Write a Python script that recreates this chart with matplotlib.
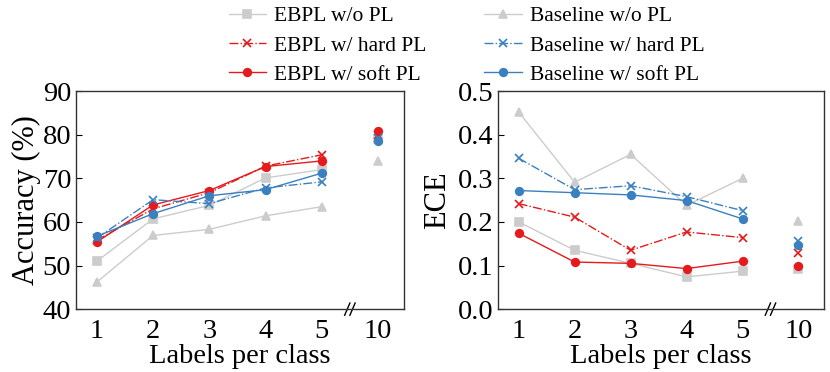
import numpy as np
import matplotlib.pyplot as plt

plt.rcParams['font.family'] = ['Liberation Serif', 'DejaVu Serif']

tick_labels = ['1', '2', '3', '4', '5', '10']

# accuracy (%)
acc_ebpl_nopl = [51.0, 60.7, 63.8, 70.1, 72.0, 79.0]
acc_ebpl_hard = [55.8, 63.0, 66.7, 72.8, 75.4, 79.9]
acc_ebpl_soft = [55.4, 63.9, 67.2, 72.7, 74.0, 80.9]
acc_base_nopl = [46.2, 56.9, 58.3, 61.4, 63.5, 74.0]
acc_base_hard = [56.3, 65.1, 64.2, 67.8, 69.2, 79.3]
acc_base_soft = [56.7, 61.9, 66.0, 67.4, 71.2, 78.6]

# ECE
ece_ebpl_nopl = [0.200, 0.135, 0.105, 0.074, 0.087, 0.092]
ece_ebpl_hard = [0.242, 0.211, 0.135, 0.177, 0.164, 0.128]
ece_ebpl_soft = [0.174, 0.108, 0.105, 0.093, 0.110, 0.099]
ece_base_nopl = [0.452, 0.291, 0.355, 0.238, 0.300, 0.203]
ece_base_hard = [0.346, 0.274, 0.283, 0.258, 0.226, 0.157]
ece_base_soft = [0.272, 0.267, 0.262, 0.249, 0.207, 0.148]

red = '#e41a1c'
blue = '#3a80c0'
gray = '#cccccc'

styles = [
    ('EBPL w/o PL', gray, '-', 's'),
    ('EBPL w/ hard PL', red, '-.', 'x'),
    ('EBPL w/ soft PL', red, '-', 'o'),
    ('Baseline w/o PL', gray, '-', '^'),
    ('Baseline w/ hard PL', blue, '-.', 'x'),
    ('Baseline w/ soft PL', blue, '-', 'o'),
]

x = np.arange(len(tick_labels))

fig = plt.figure(figsize=(8.3, 3.72), dpi=100)
ax1 = fig.add_axes([0.0916, 0.169, 0.395, 0.586])
ax2 = fig.add_axes([0.600, 0.169, 0.393, 0.586])


def draw(ax, series):
    handles = []
    for (label, c, ls, m), y in zip(styles, series):
        y = np.asarray(y)
        h, = ax.plot(x[:5], y[:5], color=c, linestyle=ls, marker=m,
                     markersize=5.5, linewidth=1.0, label=label,
                     markeredgewidth=1.2)
        ax.plot(x[5], y[5], color=c, marker=m, markersize=5.5,
                markeredgewidth=1.2, linestyle='none')
        handles.append(h)
    ax.set_xticks(x)
    ax.set_xticklabels(tick_labels)
    ax.set_xlim(-0.37, 5.46)
    ax.tick_params(direction='in', labelsize=20.5, length=4, width=0.8)
    ax.tick_params(axis='x', length=0, pad=7)
    for s in ax.spines.values():
        s.set_linewidth(1.0)
        s.set_color('#333333')
    ax.set_xlabel('Labels per class', fontsize=20.5, labelpad=0)
    # axis break marks
    xb = (4.5 + 0.37) / (5.46 + 0.37)
    for dx in (-0.008, 0.008):
        ax.plot([xb + dx - 0.008, xb + dx + 0.008], [-0.028, 0.028],
                transform=ax.transAxes, color='black', linewidth=1.0,
                clip_on=False)
    return handles


handles = draw(ax1, [acc_ebpl_nopl, acc_ebpl_hard, acc_ebpl_soft,
                     acc_base_nopl, acc_base_hard, acc_base_soft])
ax1.set_ylim(40, 90)
ax1.set_yticks([40, 50, 60, 70, 80, 90])
ax1.set_ylabel('Accuracy (%)', fontsize=22, labelpad=1)

draw(ax2, [ece_ebpl_nopl, ece_ebpl_hard, ece_ebpl_soft,
           ece_base_nopl, ece_base_hard, ece_base_soft])
ax2.set_ylim(0.0, 0.5)
ax2.set_yticks([0.0, 0.1, 0.2, 0.3, 0.4, 0.5])
ax2.set_yticklabels(['0.0', '0.1', '0.2', '0.3', '0.4', '0.5'])
ax2.set_ylabel('ECE', fontsize=22, labelpad=4)

fig.legend(handles=handles, ncol=2, loc='upper center',
           bbox_to_anchor=(0.562, 1.035), frameon=False, fontsize=15.5,
           handlelength=1.75, columnspacing=2.7, labelspacing=0.42,
           handletextpad=0.35)

fig.savefig('out.png', dpi=100)
